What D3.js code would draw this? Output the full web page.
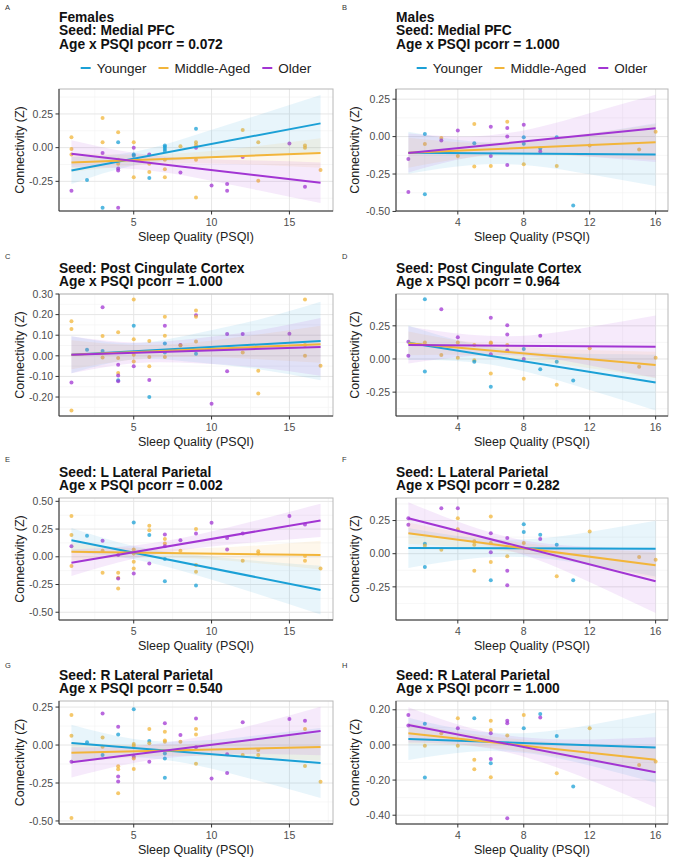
<!DOCTYPE html>
<html><head><meta charset="utf-8">
<script src="https://cdn.jsdelivr.net/npm/d3@7"></script>
<style>body{margin:0;background:#fff} text{font-family:"Liberation Sans",Arial,Helvetica,sans-serif}</style>
</head><body><svg id="c" width="675" height="860"></svg>
<script>
// ---------- data ----------
const groups = ["Younger", "Middle-Aged", "Older"];
const groupColors = ["#1BA0D6", "#F2B53A", "#A235D3"];
const panelLetters = ["A","B","C","D","E","F","G","H"];
const panelTitles = [
  ["Females","Seed: Medial PFC","Age x PSQI pcorr = 0.072"],
  ["Males","Seed: Medial PFC","Age x PSQI pcorr = 1.000"],
  ["Seed: Post Cingulate Cortex","Age x PSQI pcorr = 1.000"],
  ["Seed: Post Cingulate Cortex","Age x PSQI pcorr = 0.964"],
  ["Seed: L Lateral Parietal","Age x PSQI pcorr = 0.002"],
  ["Seed: L Lateral Parietal","Age x PSQI pcorr = 0.282"],
  ["Seed: R Lateral Parietal","Age x PSQI pcorr = 0.540"],
  ["Seed: R Lateral Parietal","Age x PSQI pcorr = 1.000"]
];
const xTitle = "Sleep Quality (PSQI)";
const yTitle = "Connectivity (Z)";
const xRangeFemales = [1, 17];
const xRangeMales = [1, 16];
const xTicksFemales = [5, 10, 15];
const xTicksMales = [4, 8, 12, 16];
const bandXFemales = [1, 5, 9, 13, 17];
const bandXMales = [1, 4.75, 8.5, 12.25, 16];

const yDomains = [[-0.47,0.435],[-0.497,0.318],[-0.292,0.30],[-0.43,0.49],[-0.57,0.53],[-0.50,0.42],[-0.52,0.29],[-0.45,0.25]];
const yTicks = [
  [-0.25,0,0.25],[-0.5,-0.25,0,0.25],[-0.2,-0.1,0,0.1,0.2,0.3],[-0.25,0,0.25],
  [-0.5,-0.25,0,0.25,0.5],[-0.25,0,0.25],[-0.5,-0.25,0,0.25],[-0.4,-0.2,0,0.2]
];

// points: [PSQI, connectivity, group index]
const pointsA = [[1,0.078,1],[1,-0.01,1],[1,-0.05,1],[1,-0.32,2],[2,-0.24,0],[3,0.22,1],[3,0.04,1],[3,-0.04,2],[3,-0.445,0],
 [4,0.115,1],[4,0.04,0],[4,-0.09,1],[4,-0.12,1],[4,-0.155,2],[4,-0.17,2],[4,-0.445,2],[5,0.04,1],[5,0.0,2],[5,-0.05,0],[5,-0.06,0],[5,-0.22,1],
 [6,-0.05,2],[6,-0.12,1],[6,-0.18,1],[6,-0.225,0],[7,0.015,0],[7,0.005,0],[7,-0.01,0],[7,-0.025,0],[7,-0.09,1],[7,-0.16,1],[7,-0.22,1],
 [8,0.01,1],[8,-0.185,2],[9,0.14,0],[9,0.04,1],[9,0.02,1],[9,0.0,2],[9,-0.09,1],[9,-0.37,1],[10,-0.28,2],[11,-0.27,2],[11,-0.32,2],
 [12,0.13,1],[12,-0.07,2],[13,0.04,1],[13,-0.245,1],[15,0.03,2],[16,0.015,1],[16,0.0,1],[16,-0.29,2],[17,-0.165,1]];
const pointsB = [[1,-0.15,2],[1,-0.37,2],[2,0.018,0],[2,-0.05,1],[2,-0.385,0],[3,-0.01,1],[3,-0.026,2],[4,0.04,2],[4,-0.13,1],
 [5,0.084,1],[5,-0.044,0],[5,-0.2,1],[6,0.066,2],[6,-0.13,2],[6,-0.196,1],[7,0.1,1],[7,0.057,2],[7,0.0,2],[7,-0.19,2],
 [8,0.08,2],[8,-0.004,0],[8,-0.048,0],[8,-0.185,1],[9,-0.08,0],[9,-0.1,2],[10,-0.004,0],[10,-0.196,1],[11,-0.46,0],
 [12,-0.06,1],[15,-0.086,1],[16,0.033,1]];
const pointsC = [[1,0.168,1],[1,0.13,1],[1,-0.13,2],[1,-0.265,1],[2,0.029,0],[3,0.236,2],[3,0.096,1],[3,0.024,0],[3,-0.008,1],
 [4,0.114,1],[4,-0.011,1],[4,-0.043,2],[4,-0.083,1],[4,-0.096,2],[4,-0.118,0],[4,-0.123,2],
 [5,0.273,1],[5,0.146,0],[5,0.08,1],[5,0.005,1],[5,-0.027,1],[5,-0.05,2],[6,0.072,1],[6,-0.006,1],[6,-0.05,1],[6,-0.117,2],[6,-0.2,0],
 [7,0.19,1],[7,0.146,2],[7,0.098,1],[7,0.06,0],[7,0.016,0],[7,-0.006,1],[8,0.053,2],[8,0.05,1],
 [9,0.22,1],[9,0.197,2],[9,0.19,1],[9,0.069,1],[9,0.01,0],[10,-0.233,2],[11,0.106,2],[11,-0.075,2],[12,0.106,2],[12,0.016,1],
 [13,-0.072,1],[13,-0.183,1],[15,0.107,2],[16,0.273,1],[16,0.053,1],[16,0.0,1],[17,-0.048,1]];
const pointsD = [[1,0.13,2],[1,0.025,2],[2,0.45,0],[2,0.125,1],[2,-0.095,0],[3,0.375,2],[3,0.03,1],[4,0.163,2],[4,0.125,1],[4,0.01,1],
 [5,0.105,1],[5,-0.01,1],[5,-0.02,0],[6,0.31,2],[6,0.125,1],[6,0.118,1],[6,0.035,2],[6,-0.11,1],[6,-0.21,0],
 [7,0.255,2],[7,0.185,2],[7,0.105,1],[7,0.063,2],[8,0.075,0],[8,0.0,2],[8,-0.15,1],[9,0.175,2],[9,-0.078,0],
 [10,-0.02,0],[10,-0.195,1],[11,-0.163,0],[12,0.08,1],[15,-0.058,1],[16,0.01,1]];
const pointsE = [[1,0.367,1],[1,0.196,1],[1,0.096,2],[1,-0.084,1],[2,0.19,0],[3,0.145,2],[3,0.054,1],[3,-0.145,1],
 [4,0.015,2],[4,-0.145,1],[4,-0.19,1],[4,-0.196,2],[4,-0.286,1],[5,0.31,0],[5,0.066,1],[5,0.03,1],[5,-0.045,1],[5,-0.105,1],[5,-0.15,2],
 [6,0.28,1],[6,0.24,1],[6,0.196,0],[6,-0.06,2],[7,0.2,2],[7,0.16,1],[7,0.12,1],[7,0.095,2],[7,-0.02,0],[7,-0.22,0],
 [8,0.15,2],[8,0.054,1],[9,0.25,1],[9,0.21,2],[9,-0.075,1],[9,-0.135,1],[9,-0.26,0],[10,0.307,2],[11,0.17,2],[11,0.066,2],
 [12,0.21,2],[12,-0.036,1],[13,0.05,1],[13,0.03,1],[15,0.367,2],[16,0.29,2],[16,0.006,1],[16,-0.036,1],[17,-0.105,1]];
const pointsF = [[1,0.268,2],[1,0.218,2],[2,0.075,0],[2,0.06,1],[2,-0.1,0],[3,0.343,2],[3,0.03,1],[4,0.343,2],[4,0.268,1],[4,0.185,1],
 [5,0.093,1],[5,0.068,1],[5,-0.128,1],[6,0.28,1],[6,0.155,2],[6,0.08,1],[6,0.01,2],[6,-0.063,1],[6,-0.2,0],
 [7,0.118,2],[7,-0.02,1],[7,-0.128,2],[7,-0.238,2],[8,0.222,0],[8,0.163,0],[8,0.08,1],[9,0.143,0],[9,0.11,2],
 [10,0.068,0],[10,-0.17,1],[11,-0.2,0],[12,0.168,1],[15,-0.025,1],[16,-0.045,1]];
const pointsG = [[1,0.197,1],[1,0.061,1],[1,-0.11,2],[1,-0.48,1],[2,0.018,0],[3,0.208,2],[3,0.05,1],[3,-0.011,1],[3,-0.066,0],
 [4,0.12,2],[4,0.07,0],[4,-0.14,1],[4,-0.16,1],[4,-0.208,2],[4,-0.24,2],[4,-0.318,1],
 [5,0.235,0],[5,0.007,1],[5,-0.004,1],[5,-0.077,2],[5,-0.088,1],[5,-0.158,1],[6,0.105,1],[6,0.026,0],[6,0.011,1],[6,-0.11,2],
 [7,0.143,2],[7,0.088,1],[7,0.03,1],[7,0.022,1],[7,-0.055,0],[7,-0.088,0],[7,-0.215,0],[8,0.066,2],[8,0.022,1],
 [9,0.175,2],[9,0.105,1],[9,0.07,1],[9,-0.015,2],[9,-0.123,1],[10,-0.22,2],[11,-0.061,2],[11,-0.184,2],[12,0.15,2],[12,-0.066,1],
 [13,-0.033,1],[13,-0.066,1],[15,0.171,2],[16,0.16,2],[16,0.105,1],[16,-0.138,1],[17,-0.241,1]];
const pointsH = [[1,0.17,2],[1,0.11,2],[2,0.121,0],[2,-0.004,1],[2,-0.186,0],[3,0.066,1],[4,0.152,1],[4,0.095,2],[4,-0.004,1],
 [5,0.152,0],[5,-0.085,1],[5,-0.139,1],[6,0.137,1],[6,0.085,1],[6,0.066,2],[6,-0.08,2],[6,-0.104,0],[6,-0.184,1],
 [7,0.137,2],[7,0.123,2],[7,0.053,1],[7,-0.417,2],[8,0.17,1],[8,0.095,0],[9,0.176,0],[9,0.156,2],
 [10,0.051,0],[10,-0.161,1],[11,-0.237,0],[12,0.095,1],[15,-0.114,1],[16,-0.095,1]];

// fitted lines: [value at min PSQI, value at max PSQI] per group
const fitA = [[-0.17,0.18],[-0.11,-0.04],[-0.045,-0.26]];
const fitB = [[-0.108,-0.12],[-0.108,-0.037],[-0.11,0.055]];
const fitC = [[0.005,0.072],[0.005,0.056],[0.005,0.043]];
const fitD = [[0.123,-0.178],[0.118,-0.045],[0.105,0.093]];
const fitE = [[0.15,-0.30],[0.045,0.015],[-0.054,0.328]];
const fitF = [[0.043,0.038],[0.155,-0.088],[0.268,-0.208]];
const fitG = [[0.013,-0.118],[-0.05,-0.013],[-0.114,0.092]];
const fitH = [[0.034,-0.015],[0.066,-0.085],[0.114,-0.156]];

// confidence band half-widths at the band x positions, per group
const bandA = [[0.10,0.05,0.09,0.15,0.21],[0.07,0.04,0.04,0.07,0.11],[0.10,0.06,0.07,0.11,0.15]];
const bandB = [[0.14,0.08,0.08,0.14,0.21],[0.10,0.05,0.05,0.08,0.12],[0.13,0.07,0.08,0.15,0.225]];
const bandC = [[0.09,0.04,0.07,0.12,0.19],[0.07,0.035,0.035,0.06,0.09],[0.09,0.05,0.06,0.09,0.14]];
const bandD = [[0.13,0.07,0.08,0.14,0.21],[0.09,0.05,0.05,0.07,0.10],[0.14,0.08,0.08,0.15,0.235]];
const bandE = [[0.11,0.06,0.09,0.15,0.22],[0.08,0.04,0.045,0.08,0.13],[0.12,0.06,0.06,0.10,0.15]];
const bandF = [[0.15,0.08,0.07,0.13,0.21],[0.08,0.05,0.04,0.06,0.10],[0.12,0.06,0.06,0.14,0.24]];
const bandG = [[0.12,0.06,0.08,0.15,0.23],[0.07,0.04,0.04,0.06,0.09],[0.10,0.055,0.06,0.10,0.16]];
const bandH = [[0.12,0.06,0.06,0.12,0.20],[0.06,0.035,0.035,0.05,0.075],[0.10,0.05,0.06,0.12,0.20]];

const allPoints = [pointsA,pointsB,pointsC,pointsD,pointsE,pointsF,pointsG,pointsH];
const allFits = [fitA,fitB,fitC,fitD,fitE,fitF,fitG,fitH];
const allBands = [bandA,bandB,bandC,bandD,bandE,bandF,bandG,bandH];

// ---------- layout ----------
const colX = [[59,333],[396,668]];
const rowY = [[89,211],[294,416],[498,620],[701,824]];
const letterY = [10,259,462,668];
const letterX = [5,342];
const yTitleX = [19,354];

const svg = d3.select("#c");
const fmt = v => d3.format(".2f")(v).replace("\u2212","-");

function minorBreaks(ticks, dom){
  const s = ticks[1]-ticks[0];
  const out = [];
  const all = [ticks[0]-s].concat(ticks).concat([ticks[ticks.length-1]+s]);
  for(let i=0;i<all.length-1;i++){ const m=(all[i]+all[i+1])/2; if(m>dom[0]&&m<dom[1]) out.push(m); }
  return out;
}

panelLetters.forEach((L,i)=>{
  const col = i%2, row = Math.floor(i/2);
  const [x0,x1] = colX[col], [y0,y1] = rowY[row];
  const xr = col===0 ? xRangeFemales : xRangeMales;
  const pad = (xr[1]-xr[0])*0.05;
  const x = d3.scaleLinear().domain([xr[0]-pad, xr[1]+pad]).range([x0,x1]);
  const y = d3.scaleLinear().domain(yDomains[i]).range([y1,y0]);
  const xt = col===0 ? xTicksFemales : xTicksMales;
  const yt = yTicks[i];
  const g = svg.append("g");

  // letter
  g.append("text").attr("x",letterX[col]).attr("y",letterY[row]).attr("font-size",7.5).attr("fill","#333").text(L);
  // title
  const tl = panelTitles[i];
  const lastBase = row===0 ? 48.5 : y0-8;
  tl.forEach((t,k)=>{
    g.append("text").attr("x",x0).attr("y",lastBase-(tl.length-1-k)*13.5)
      .attr("font-size",13.8).attr("font-weight","bold").attr("fill","#111").text(t);
  });
  // legend
  if(row===0){
    const lg = g.append("g");
    let cx = 0;
    groups.forEach((gn,k)=>{
      const it = lg.append("g").attr("transform",`translate(${cx},0)`);
      it.append("line").attr("x1",0).attr("x2",10).attr("y1",0).attr("y2",0).attr("stroke",groupColors[k]).attr("stroke-width",2);
      const tx = it.append("text").attr("x",16).attr("y",4.8).attr("font-size",13.5).attr("fill","#222").text(gn);
      const w = 16 + tx.node().getComputedTextLength();
      cx += w + 12;
    });
    const total = cx - 12;
    lg.attr("transform",`translate(${(x0+x1)/2-total/2},68)`);
  }
  // clip
  const cid = "clip"+i;
  svg.append("clipPath").attr("id",cid).append("rect").attr("x",x0).attr("y",y0).attr("width",x1-x0).attr("height",y1-y0);
  // grid
  const gg = g.append("g");
  minorBreaks(xt,x.domain()).forEach(v=>gg.append("line").attr("x1",x(v)).attr("x2",x(v)).attr("y1",y0).attr("y2",y1).attr("stroke","#f2f2f2").attr("stroke-width",0.6));
  minorBreaks(yt,y.domain()).forEach(v=>gg.append("line").attr("y1",y(v)).attr("y2",y(v)).attr("x1",x0).attr("x2",x1).attr("stroke","#f2f2f2").attr("stroke-width",0.6));
  xt.forEach(v=>gg.append("line").attr("x1",x(v)).attr("x2",x(v)).attr("y1",y0).attr("y2",y1).attr("stroke","#e6e6e6").attr("stroke-width",1));
  yt.forEach(v=>gg.append("line").attr("y1",y(v)).attr("y2",y(v)).attr("x1",x0).attr("x2",x1).attr("stroke","#e6e6e6").attr("stroke-width",1));

  const plot = g.append("g").attr("clip-path",`url(#${cid})`);
  // points
  plot.selectAll("circle").data(allPoints[i]).join("circle")
    .attr("cx",d=>x(d[0])).attr("cy",d=>y(d[1])).attr("r",2)
    .attr("fill",d=>groupColors[d[2]]).attr("fill-opacity",0.75);
  // bands and lines
  const bx = col===0 ? bandXFemales : bandXMales;
  const fits = allFits[i], bands = allBands[i];
  const lineAt = (f,xv)=> f[0] + (f[1]-f[0])*(xv-xr[0])/(xr[1]-xr[0]);
  const area = d3.area().x(d=>x(d.x)).y0(d=>y(d.lo)).y1(d=>y(d.hi)).curve(d3.curveNatural);
  groups.forEach((gn,k)=>{
    const bd = bx.map((xv,j)=>({x:xv, lo: lineAt(fits[k],xv)-bands[k][j], hi: lineAt(fits[k],xv)+bands[k][j]}));
    plot.append("path").attr("d",area(bd)).attr("fill",groupColors[k]).attr("fill-opacity",0.1).attr("stroke","none");
  });
  groups.forEach((gn,k)=>{
    plot.append("line").attr("x1",x(xr[0])).attr("x2",x(xr[1])).attr("y1",y(fits[k][0])).attr("y2",y(fits[k][1]))
      .attr("stroke",groupColors[k]).attr("stroke-width",2);
  });
  // border
  g.append("rect").attr("x",x0).attr("y",y0).attr("width",x1-x0).attr("height",y1-y0).attr("fill","none").attr("stroke","#b8b8b8").attr("stroke-width",1);
  g.append("line").attr("x1",x0).attr("x2",x0).attr("y1",y0).attr("y2",y1).attr("stroke","#333").attr("stroke-width",1);
  g.append("line").attr("x1",x0).attr("x2",x1).attr("y1",y1).attr("y2",y1).attr("stroke","#333").attr("stroke-width",1);
  // ticks + labels
  xt.forEach(v=>{
    g.append("line").attr("x1",x(v)).attr("x2",x(v)).attr("y1",y1).attr("y2",y1+3.5).attr("stroke","#333");
    g.append("text").attr("x",x(v)).attr("y",y1+15).attr("text-anchor","middle").attr("font-size",10.5).attr("fill","#4d4d4d").text(v);
  });
  yt.forEach(v=>{
    g.append("line").attr("x1",x0-3.5).attr("x2",x0).attr("y1",y(v)).attr("y2",y(v)).attr("stroke","#333");
    g.append("text").attr("x",x0-6).attr("y",y(v)+3.7).attr("text-anchor","end").attr("font-size",10.5).attr("fill","#4d4d4d").text(fmt(v));
  });
  g.append("text").attr("x",(x0+x1)/2).attr("y",y1+30).attr("text-anchor","middle").attr("font-size",12.5).attr("fill","#222").text(xTitle);
  g.append("text").attr("transform",`translate(${yTitleX[col]+4.5},${(y0+y1)/2}) rotate(-90)`).attr("text-anchor","middle").attr("font-size",12.5).attr("fill","#222").text(yTitle);
});
</script></body></html>
